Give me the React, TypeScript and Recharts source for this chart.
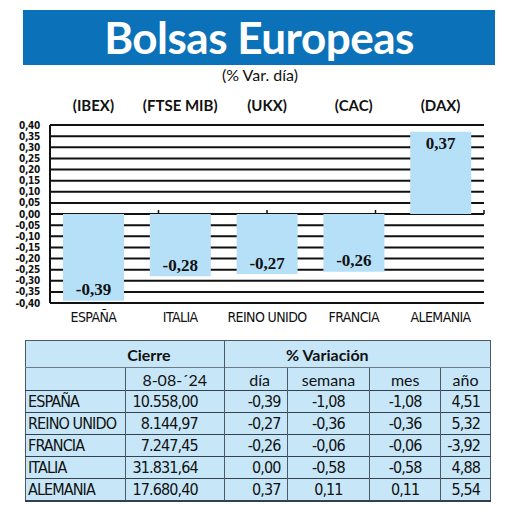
import { BarChart, Bar, XAxis, YAxis, CartesianGrid, LabelList, ReferenceLine } from 'recharts';

const countries = ['ESPAÑA', 'ITALIA', 'REINO UNIDO', 'FRANCIA', 'ALEMANIA'];
const indices = ['(IBEX)', '(FTSE MIB)', '(UKX)', '(CAC)', '(DAX)'];
const dayChange = [-0.39, -0.28, -0.27, -0.26, 0.37];
const yTicks = [-0.4, -0.35, -0.3, -0.25, -0.2, -0.15, -0.1, -0.05, 0, 0.05, 0.1, 0.15, 0.2, 0.25, 0.3, 0.35, 0.4];

const tableRows = ['ESPAÑA', 'REINO UNIDO', 'FRANCIA', 'ITALIA', 'ALEMANIA'];
const closeValues = ['10.558,00', '8.144,97', '7.247,45', '31.831,64', '17.680,40'];
const dayValues = ['-0,39', '-0,27', '-0,26', '0,00', '0,37'];
const weekValues = ['-1,08', '-0,36', '-0,06', '-0,58', '0,11'];
const monthValues = ['-1,08', '-0,36', '-0,06', '-0,58', '0,11'];
const yearValues = ['4,51', '5,32', '-3,92', '4,88', '5,54'];

const data = countries.map((c, i) => ({ country: c, index: indices[i], value: dayChange[i] }));
const boundaries = countries.map((_, i) => i + 1);

const SANS = 'Lato, "Open Sans", sans-serif';
const NARROW = '"Liberation Sans Narrow", "DejaVu Sans Condensed", sans-serif';
const fmt = (v: number) => v.toFixed(2).replace('.', ',');

// value label sits inside the bar, near its far end
const ValueLabel = (props: any) => {
  const { x, y, width, height, value } = props;
  const top = Math.min(y, y + height);
  const bottom = Math.max(y, y + height);
  const ty = value < 0 ? bottom - 11 : top + 12;
  return (
    <text
      x={x + width / 2}
      y={ty}
      textAnchor="middle"
      dominantBaseline="central"
      fontFamily='"Liberation Serif", serif'
      fontWeight="bold"
      fontSize={17}
      fill="#111"
    >
      {fmt(value)}
    </text>
  );
};

const cell: React.CSSProperties = {
  borderLeft: '1px solid #4a5a66',
  borderTop: '1.5px solid #33414c',
  padding: 0,
  height: 21,
  fontFamily: NARROW,
  fontSize: 16,
  letterSpacing: -0.9,
  color: '#111',
};

const head: React.CSSProperties = {
  ...cell,
  borderTop: '1px solid #6a7a86',
  fontFamily: SANS,
  fontSize: 16,
  letterSpacing: 0,
  textAlign: 'center',
};

export default function App() {
  return (
    <div style={{ position: 'absolute', left: 0, top: 0, width: 520, height: 526, background: '#fff', overflow: 'hidden' }}>
      <div
        style={{
          position: 'absolute',
          left: 23,
          top: 10,
          width: 472,
          height: 55,
          background: '#0b72b9',
          color: '#fff',
          fontFamily: SANS,
          fontWeight: 700,
          fontSize: 44,
          letterSpacing: -0.5,
          lineHeight: '55px',
          textAlign: 'center',
        }}
      >
        Bolsas Europeas
      </div>
      <div style={{ position: 'absolute', left: 0, width: 520, top: 65, textAlign: 'center', fontFamily: SANS, fontSize: 16, color: '#111' }}>
        (% Var. día)
      </div>
      <div style={{ position: 'absolute', left: 0, top: 85 }}>
        <BarChart width={520} height={243} data={data} margin={{ top: 0, right: 36, left: 0, bottom: 3 }} barCategoryGap="15%">
          <CartesianGrid vertical={false} stroke="#111" strokeWidth={2} />
          <XAxis
            xAxisId="top"
            orientation="top"
            dataKey="index"
            height={40}
            axisLine={false}
            tickLine={false}
            tickSize={0}
            tickMargin={14}
            tick={{ fill: '#111', fontFamily: SANS, fontWeight: 700, fontSize: 15 }}
          />
          <XAxis
            dataKey="country"
            height={22}
            axisLine={{ stroke: '#111', strokeWidth: 2 }}
            tickLine={false}
            tickMargin={3}
            tick={{ fill: '#111', fontFamily: NARROW, fontSize: 14, letterSpacing: -0.6 }}
          />
          <XAxis xAxisId="num" type="number" domain={[0, countries.length]} hide />
          <YAxis
            width={50}
            domain={[-0.4, 0.4]}
            ticks={yTicks}
            interval={0}
            tickFormatter={fmt}
            axisLine={{ stroke: '#111', strokeWidth: 2 }}
            tickLine={false}
            tickMargin={4}
            tick={{ fill: '#111', fontFamily: NARROW, fontWeight: 700, fontSize: 10, letterSpacing: -0.3 }}
          />
          {boundaries.map((b) => (
            <ReferenceLine
              key={b}
              xAxisId="num"
              segment={[{ x: b, y: 0 }, { x: b, y: 0.018 }]}
              stroke="#111"
              strokeWidth={1.5}
            />
          ))}
          <Bar dataKey="value" fill="#b6dff8" isAnimationActive={false}>
            <LabelList dataKey="value" content={ValueLabel} />
          </Bar>
        </BarChart>
      </div>
      <table
        style={{
          position: 'absolute',
          left: 25,
          top: 340,
          width: 466,
          borderCollapse: 'collapse',
          background: '#c7e7f8',
          border: '1px solid #4a5a66',
          borderBottom: '2px solid #33414c',
        }}
      >
        <colgroup>
          <col style={{ width: 100 }} />
          <col style={{ width: 99 }} />
          <col style={{ width: 63 }} />
          <col style={{ width: 83 }} />
          <col style={{ width: 71 }} />
          <col style={{ width: 50 }} />
        </colgroup>
        <tbody>
          <tr style={{ height: 27 }}>
            <td colSpan={2} style={{ padding: '0 0 0 48px', textAlign: 'center', fontFamily: SANS, fontWeight: 700, fontSize: 16, color: '#111' }}>
              Cierre
            </td>
            <td colSpan={4} style={{ borderLeft: '1px solid #4a5a66', padding: '0 60px 0 0', textAlign: 'center', fontFamily: SANS, fontWeight: 700, fontSize: 16, color: '#111' }}>
              % Variación
            </td>
          </tr>
          <tr style={{ height: 23 }}>
            <td style={{ ...head, borderLeft: 'none' }}></td>
            <td style={{ ...head, paddingLeft: 0 }}>8-08-´24</td>
            <td style={{ ...head, paddingLeft: 8 }}>día</td>
            <td style={head}>semana</td>
            <td style={head}>mes</td>
            <td style={head}>año</td>
          </tr>
          {tableRows.map((r, i) => (
            <tr key={r} style={{ height: 21.5 }}>
              <td style={{ ...cell, borderLeft: 'none', paddingLeft: 2 }}>{r}</td>
              <td style={{ ...cell, textAlign: 'right', paddingRight: 26 }}>{closeValues[i]}</td>
              <td style={{ ...cell, textAlign: 'right', paddingRight: 6 }}>{dayValues[i]}</td>
              <td style={{ ...cell, textAlign: 'center' }}>{weekValues[i]}</td>
              <td style={{ ...cell, textAlign: 'center' }}>{monthValues[i]}</td>
              <td style={{ ...cell, textAlign: 'right', paddingRight: 10 }}>{yearValues[i]}</td>
            </tr>
          ))}
        </tbody>
      </table>
    </div>
  );
}
